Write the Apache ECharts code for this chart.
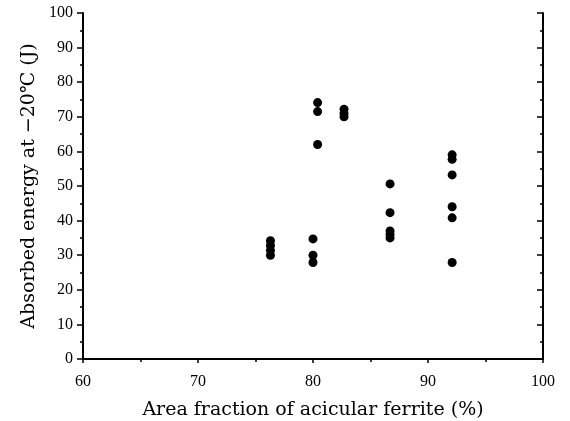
<!DOCTYPE html>
<html>
<head>
<meta charset="utf-8">
<script src="https://cdn.jsdelivr.net/npm/echarts@6/dist/echarts.min.js"></script>
<style>html,body{margin:0;padding:0;background:#fff}#c{width:570px;height:421px}</style>
</head>
<body>
<div id="c"></div>
<script>
var xTitle = 'Area fraction of acicular ferrite (%)';
var yTitle = 'Absorbed energy at \u221220\u2103 (J)';
var xValues = [76.3, 76.3, 76.3, 76.3, 80.0, 80.0, 80.0, 80.4, 80.4, 80.4, 82.7, 82.7, 82.7, 86.7, 86.7, 86.7, 86.7, 86.7, 92.1, 92.1, 92.1, 92.1, 92.1, 92.1];
var yValues = [34.2, 32.8, 31.4, 30.0, 34.7, 30.0, 27.9, 74.1, 71.5, 62.0, 72.2, 71.0, 70.0, 50.6, 42.3, 37.0, 36.0, 35.0, 59.0, 57.7, 53.2, 44.0, 40.8, 27.9];
var pts = xValues.map(function (x, i) { return [x, yValues[i]]; });
var font = 'DejaVu Serif';
var tickFont = 'Liberation Serif';
var chart = echarts.init(document.getElementById('c'));
chart.setOption({
  animation: false,
  backgroundColor: '#fff',
  grid: { left: 83, right: 27, top: 13, bottom: 62, containLabel: false, outerBoundsMode: 'none' },
  xAxis: [{
    type: 'value', min: 60, max: 100, interval: 10,
    name: xTitle, nameLocation: 'middle', nameGap: 42,
    nameTextStyle: { fontFamily: font, fontSize: 19, color: '#000' },
    axisLine: { lineStyle: { color: '#000', width: 2 } },
    axisTick: { show: true, inside: false, length: 4, lineStyle: { color: '#000', width: 1.5 } },
    minorTick: { show: true, splitNumber: 2, length: 3, lineStyle: { color: '#000', width: 1.5 } },
    axisLabel: { fontFamily: tickFont, fontSize: 16, color: '#000', margin: 15 },
    splitLine: { show: false }
  }, {
    type: 'value', min: 60, max: 100, position: 'top',
    axisLine: { show: true, lineStyle: { color: '#000', width: 2 } },
    axisTick: { show: false }, axisLabel: { show: false }, splitLine: { show: false }
  }],
  yAxis: [{
    type: 'value', min: 0, max: 100, interval: 10,
    name: yTitle, nameLocation: 'middle', nameGap: 44,
    nameTextStyle: { fontFamily: font, fontSize: 19, color: '#000' },
    axisLine: { show: true, lineStyle: { color: '#000', width: 2 } },
    axisTick: { show: true, inside: false, length: 6, lineStyle: { color: '#000', width: 1.5 } },
    minorTick: { show: true, splitNumber: 2, length: 3, lineStyle: { color: '#000', width: 1.5 } },
    axisLabel: { fontFamily: tickFont, fontSize: 16, color: '#000', margin: 10 },
    splitLine: { show: false }
  }, {
    type: 'value', min: 0, max: 100, interval: 10, position: 'right',
    axisLine: { show: true, lineStyle: { color: '#000', width: 2 } },
    axisTick: { show: true, inside: true, length: 6, lineStyle: { color: '#000', width: 1.5 } },
    minorTick: { show: true, splitNumber: 2, length: 3, lineStyle: { color: '#000', width: 1.5 } },
    axisLabel: { show: false }, splitLine: { show: false }
  }],
  series: [{
    type: 'scatter',
    data: pts,
    symbol: 'circle',
    symbolSize: 9,
    itemStyle: { color: '#000', opacity: 1 }
  }]
});
</script>
</body>
</html>
